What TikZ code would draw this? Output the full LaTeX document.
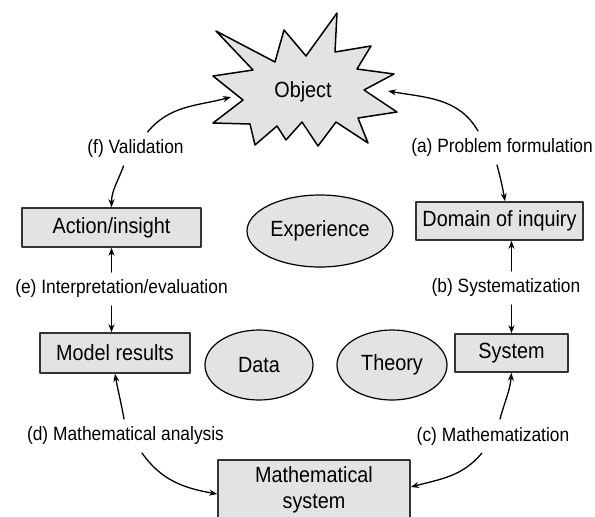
\documentclass[tikz,border=0pt]{standalone}
\usepackage{fontspec}
\setmainfont{Liberation Sans}[FakeStretch=0.9]
\usetikzlibrary{arrows.meta}
\usetikzlibrary{shapes.geometric}

\definecolor{boxgray}{gray}{0.89}
\definecolor{edgegray}{gray}{0.2}

\begin{document}
\begin{tikzpicture}[x=1pt, y=1pt, line cap=round, line join=round, >={Stealth[length=8pt,width=6pt]},
  box/.style={draw=edgegray, line width=1.6pt, fill=boxgray, inner sep=0pt, font=\fontsize{22}{26}\selectfont},
  blob/.style={ellipse, draw=black, line width=1.2pt, fill=boxgray, inner sep=0pt, font=\fontsize{22}{26}\selectfont},
  lbl/.style={font=\fontsize{19.3}{23}\selectfont, inner sep=3pt, outer sep=5pt},
  arr/.style={->, line width=1.3pt}]

\useasboundingbox (0,0) rectangle (595,-517);
\clip (0,0) rectangle (595,-517);

\draw[line width=1.5pt, fill=boxgray] (216,-31) -- (275,-62) -- (284,-30) -- (306,-56) -- (337,-13)
  -- (335,-52) -- (371,-46) -- (357,-69) -- (394,-74) -- (364,-90) -- (397,-112) -- (358,-118)
  -- (368,-143) -- (336,-122) -- (318,-146) -- (302,-122) -- (286,-140) -- (277,-126) -- (255,-145)
  -- (250,-124) -- (213,-123) -- (243,-100) -- (213,-76) -- (253,-70) -- cycle;
\node[font=\fontsize{22}{26}\selectfont] (obj) at (303,-92) {Object};
\coordinate (objW) at (231,-97);
\coordinate (objE) at (388,-91);

\node[box, minimum width=179, minimum height=39] (act) at (111.5,-227.5) {Action/insight};
\node[box, minimum width=167, minimum height=38] (dom) at (499.5,-221) {Domain of inquiry};
\node[box, minimum width=150, minimum height=40] (res) at (115,-353) {Model results};
\node[box, minimum width=113, minimum height=38] (sys) at (511.5,-353) {System};
\node[box, minimum width=192, minimum height=60, align=center] (msys) at (314,-490) {Mathematical\\system};

\node[blob, minimum width=146, minimum height=72] (exp) at (320,-231) {Experience};
\node[blob, minimum width=108, minimum height=70] (dat) at (259,-365) {Data};
\node[blob, minimum width=110, minimum height=70] (thy) at (392,-365) {Theory};

\node[lbl] (lf) at (135.5,-149) {(f) Validation};
\node[lbl] (la) at (502,-148) {(a) Problem formulation};
\node[lbl] (le) at (121.5,-289) {(e) Interpretation/evaluation};
\node[lbl] (lb) at (506,-288) {(b) Systematization};
\node[lbl] (ld) at (125.5,-436) {(d) Mathematical analysis};
\node[lbl] (lc) at (493,-436) {(c) Mathematization};

\draw[arr] ([xshift=12pt]lf.north) to[out=50,in=195] (objW);
\draw[arr] ([xshift=-12pt]lf.south) to[out=250,in=90] (act.north);

\draw[arr] ([xshift=-24pt]la.north) to[out=120,in=-10] (objE);
\draw[arr] ([xshift=-5pt]la.south) to[out=-75,in=100] ([xshift=5.5pt]dom.north);

\draw[arr] (le.north -| act) -- (act.south);
\draw[arr] (le.south -| act) -- (act |- res.north);

\draw[arr] (lb.north -| sys) -- (sys |- dom.south);
\draw[arr] (lb.south -| sys) -- (sys.north);

\draw[arr] ([xshift=-1.5pt]ld.north) to[out=100,in=-80] (res.south);
\draw[arr] ([xshift=16.5pt]ld.south) to[out=-55,in=170] ([yshift=-4pt]msys.west);

\draw[arr] ([xshift=7pt]lc.north) to[out=75,in=-95] (sys.south);
\draw[arr] ([xshift=-11pt]lc.south) to[out=230,in=15] ([yshift=3pt]msys.east);
\end{tikzpicture}
\end{document}
